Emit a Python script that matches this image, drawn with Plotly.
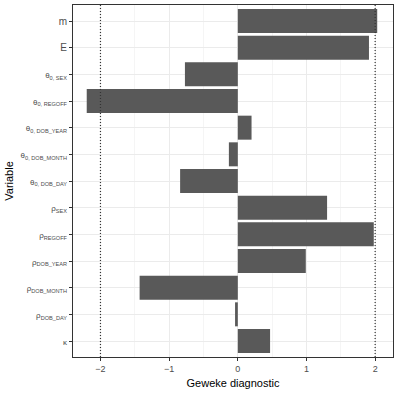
import plotly.graph_objects as go

variables = [
    "m", "E",
    "θ<sub>0, SEX</sub>", "θ<sub>0, REGOFF</sub>", "θ<sub>0, DOB_YEAR</sub>",
    "θ<sub>0, DOB_MONTH</sub>", "θ<sub>0, DOB_DAY</sub>",
    "ρ<sub>SEX</sub>", "ρ<sub>REGOFF</sub>", "ρ<sub>DOB_YEAR</sub>",
    "ρ<sub>DOB_MONTH</sub>", "ρ<sub>DOB_DAY</sub>", "κ",
]
geweke = [2.03, 1.91, -0.77, -2.2, 0.2, -0.13, -0.84,
          1.30, 1.98, 0.99, -1.43, -0.04, 0.47]
x_ticks = [-2, -1, 0, 1, 2]
x_tick_labels = ["−2", "−1", "0", "1", "2"]
thresholds = [-2, 2]

# greek labels are drawn a bit smaller, as in the original
y_tick_labels = [
    v if v in ("m", "E") else "<span style='font-size:8px'>%s</span>" % v
    for v in variables
]

fig = go.Figure()
fig.add_trace(go.Bar(
    x=geweke, y=variables, orientation="h", width=0.9,
    marker=dict(color="#595959", line=dict(width=0)),
))

for t in thresholds:
    fig.add_vline(x=t, line=dict(color="#333333", width=1.2, dash="1px,2px"))

fig.update_layout(
    width=399, height=394,
    margin=dict(l=73, r=6, t=5, b=37, autoexpand=False),
    paper_bgcolor="white", plot_bgcolor="white",
    showlegend=False,
    font=dict(family="Liberation Sans, Arial, sans-serif", color="#4d4d4d"),
    bargap=0.1,
)
fig.update_xaxes(
    automargin=False,
    range=[-2.4, 2.26], tickvals=x_ticks, ticktext=x_tick_labels,
    showgrid=True, gridcolor="#ebebeb", gridwidth=1,
    minor=dict(dtick=0.5, showgrid=True, gridcolor="#f5f5f5", gridwidth=0.6),
    zeroline=False,
    showline=True, linecolor="#333333", linewidth=1, mirror=True,
    ticks="outside", ticklen=3, tickcolor="#333333",
    tickfont=dict(size=9, color="#4d4d4d"),
    title=dict(text="Geweke diagnostic", font=dict(size=11, color="black"), standoff=6),
)
fig.update_yaxes(
    automargin=False,
    categoryorder="array", categoryarray=variables[::-1],
    tickvals=variables, ticktext=y_tick_labels,
    range=[-0.6, 12.6],
    showgrid=True, gridcolor="#ebebeb", gridwidth=1,
    zeroline=False,
    showline=True, linecolor="#333333", linewidth=1, mirror=True,
    ticks="outside", ticklen=3, tickcolor="#333333",
    tickfont=dict(size=10, color="#4d4d4d"),
    title=dict(text="Variable", font=dict(size=11, color="black"), standoff=4),
)

# the page body has a default 8px margin; drop it so the figure sits at 0,0
fig.write_html("out.html", config={"displayModeBar": False},
               post_script="document.body.style.margin='0';")
